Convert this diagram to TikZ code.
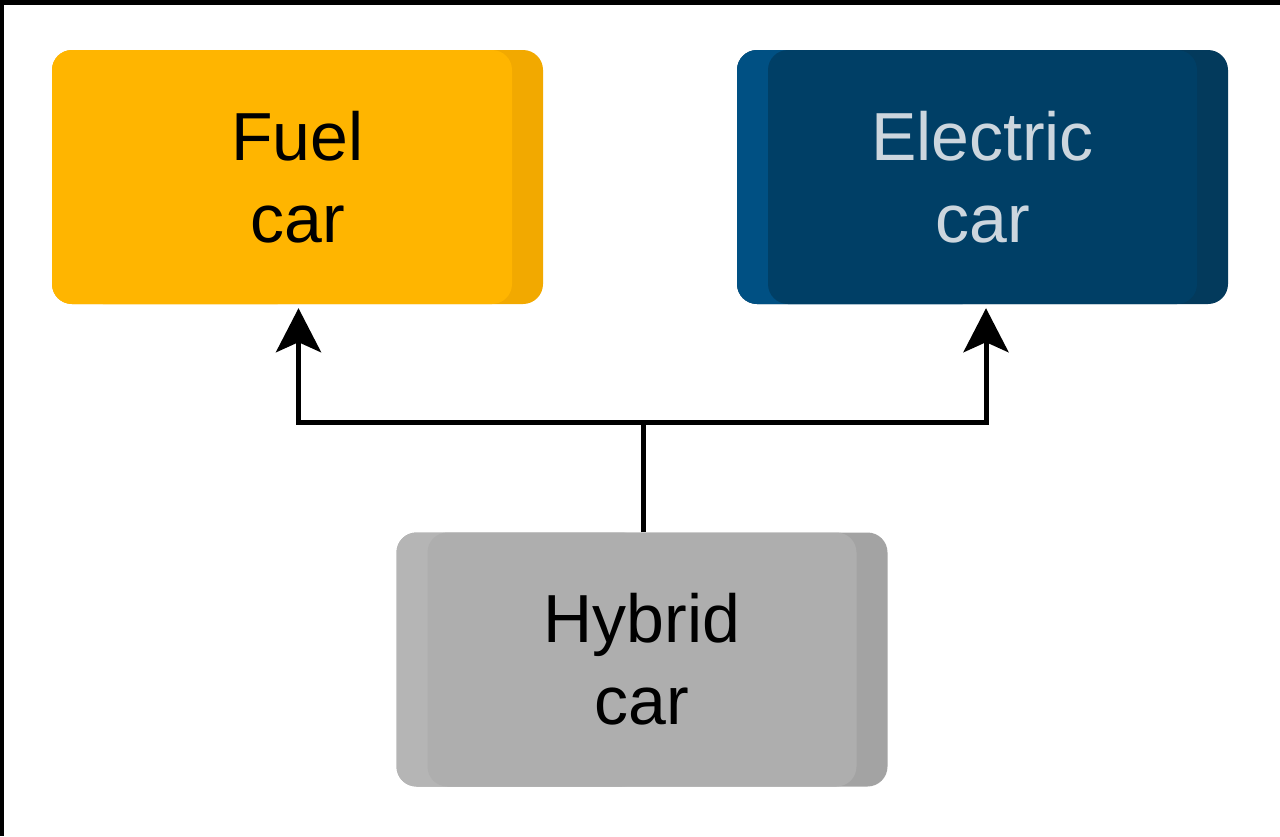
\documentclass[tikz,border=0pt]{standalone}
\usepackage{fontspec}
\setmainfont{Liberation Sans}
\usetikzlibrary{arrows.meta}
\definecolor{fuelmain}{RGB}{255,181,0}
\definecolor{fuelside}{RGB}{242,169,0}
\definecolor{elecmain}{RGB}{0,63,102}
\definecolor{elecleft}{RGB}{0,80,131}
\definecolor{elecright}{RGB}{3,58,92}
\definecolor{electext}{RGB}{204,214,222}
\definecolor{hybmain}{RGB}{174,174,174}
\definecolor{hybleft}{RGB}{181,181,181}
\definecolor{hybright}{RGB}{163,163,163}
\tikzset{
  carback/.style 2 args={shape=rectangle,rounded corners=20pt,minimum width=491pt,minimum height=254pt,inner sep=0pt,fill=#2,
    path picture={\fill[#1] (path picture bounding box.south west) rectangle (path picture bounding box.north);}},
  carfront/.style={shape=rectangle,rounded corners=20pt,minimum width=429pt,minimum height=254pt,inner sep=0pt,fill=#1,
    align=center,font=\fontsize{68}{82}\selectfont},
  link/.style={line width=5pt,-{Stealth[length=44pt,width=45pt,inset=10pt]},shorten >=4pt}
}
\begin{document}
\begin{tikzpicture}[x=1pt,y=-1pt]
            \useasboundingbox (0,0) rectangle (1280,836);
            \fill[white] (0,0) rectangle (1280,836);
            \draw[line width=5pt] (0,2.5) -- (1280,2.5);
            \draw[line width=3.5pt] (1.75,0) -- (1.75,836);
            \node[carback={fuelmain}{fuelside}] (fuelback) at (297.5,177) {};
            \node[carfront=fuelmain] (fuel) at (297.5,177) {Fuel\\car};
            \node[carback={elecleft}{elecright}] (elecback) at (982.5,177) {};
            \node[carfront=elecmain,text=electext] (elec) at (982.5,177) {Electric\\car};
            \node[carback={hybleft}{hybright}] (hybback) at (642,659.5) {};
            \node[carfront=hybmain] (hyb) at (642,659.5) {Hybrid\\car};
            \coordinate (fork) at (643,422);
            \draw[link] (hyb.north -| fork) -- (fork) -| ([xshift=1pt]fuel.south);
            \draw[link] (fork) -| ([xshift=3.5pt]elec.south);
        \end{tikzpicture}
\end{document}
